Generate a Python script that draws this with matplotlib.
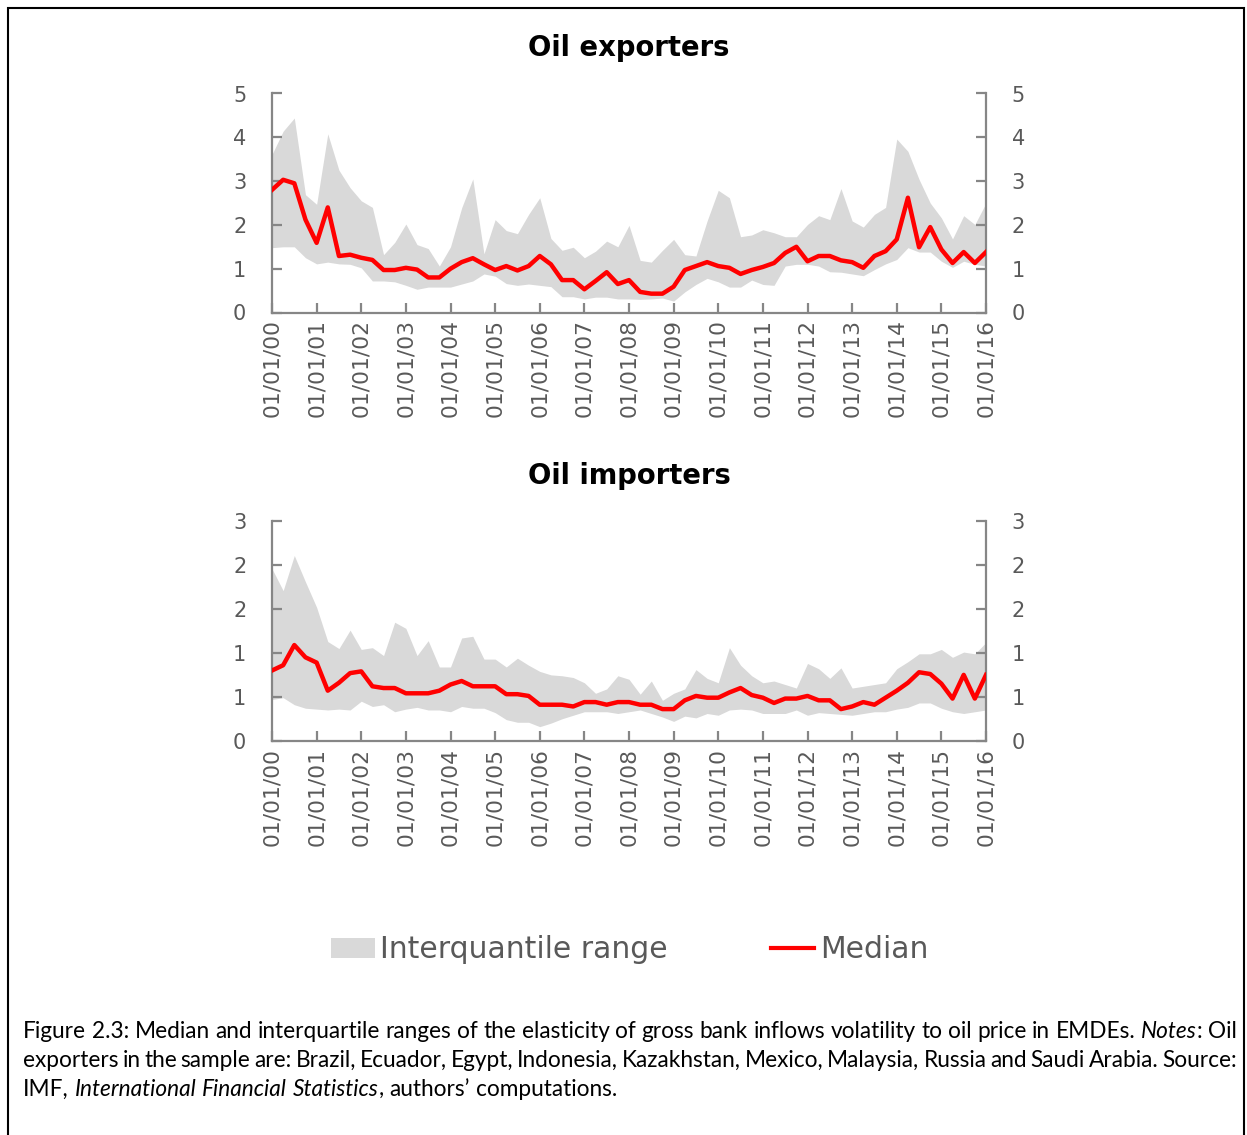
import matplotlib
matplotlib.use("Agg")
import matplotlib.pyplot as plt
import numpy as np
from matplotlib.patches import Patch, Rectangle
from matplotlib.lines import Line2D

# ---------------- data (quarterly, 2000Q1 .. 2016Q1) ----------------
quarter_index = list(range(65))
year_tick_pos = [0, 4, 8, 12, 16, 20, 24, 28, 32, 36, 40, 44, 48, 52, 56, 60, 64]
year_tick_labels = ["01/01/00", "01/01/01", "01/01/02", "01/01/03", "01/01/04",
                    "01/01/05", "01/01/06", "01/01/07", "01/01/08", "01/01/09",
                    "01/01/10", "01/01/11", "01/01/12", "01/01/13", "01/01/14",
                    "01/01/15", "01/01/16"]

exp_median = [2.80, 3.03, 2.95, 2.12, 1.59, 2.40, 1.29, 1.32, 1.25, 1.20,
              0.97, 0.97, 1.02, 0.98, 0.80, 0.80, 1.00, 1.15, 1.24, 1.10,
              0.97, 1.06, 0.96, 1.06, 1.29, 1.10, 0.74, 0.74, 0.53, 0.72,
              0.92, 0.65, 0.74, 0.47, 0.43, 0.43, 0.59, 0.97, 1.06, 1.15,
              1.06, 1.02, 0.88, 0.97, 1.04, 1.13, 1.36, 1.50, 1.17, 1.29,
              1.29, 1.19, 1.15, 1.02, 1.29, 1.40, 1.67, 2.62, 1.49, 1.95,
              1.44, 1.13, 1.38, 1.13, 1.38]
exp_upper = [3.61, 4.14, 4.44, 2.69, 2.47, 4.08, 3.25, 2.85, 2.55, 2.40,
             1.32, 1.60, 2.02, 1.55, 1.46, 1.06, 1.50, 2.39, 3.05, 1.34,
             2.12, 1.87, 1.80, 2.24, 2.62, 1.69, 1.42, 1.49, 1.25, 1.40,
             1.63, 1.50, 1.99, 1.19, 1.15, 1.42, 1.67, 1.32, 1.29, 2.09,
             2.79, 2.62, 1.73, 1.77, 1.89, 1.82, 1.73, 1.73, 2.01, 2.21,
             2.12, 2.83, 2.09, 1.95, 2.24, 2.40, 3.96, 3.68, 3.04, 2.50,
             2.16, 1.68, 2.21, 2.01, 2.50]
exp_lower = [1.48, 1.50, 1.50, 1.25, 1.11, 1.15, 1.11, 1.10, 1.02, 0.72,
             0.72, 0.70, 0.62, 0.53, 0.58, 0.58, 0.58, 0.65, 0.72, 0.88,
             0.83, 0.66, 0.62, 0.65, 0.62, 0.59, 0.36, 0.36, 0.31, 0.35,
             0.35, 0.31, 0.31, 0.30, 0.31, 0.33, 0.26, 0.47, 0.64, 0.78,
             0.70, 0.58, 0.58, 0.74, 0.64, 0.62, 1.06, 1.10, 1.10, 1.06,
             0.93, 0.92, 0.88, 0.84, 0.98, 1.11, 1.21, 1.48, 1.38, 1.38,
             1.17, 1.03, 1.17, 1.10, 1.06]

imp_median = [0.80, 0.86, 1.09, 0.95, 0.89, 0.57, 0.66, 0.77, 0.79, 0.62,
              0.60, 0.60, 0.54, 0.54, 0.54, 0.57, 0.64, 0.68, 0.62, 0.62,
              0.62, 0.53, 0.53, 0.51, 0.41, 0.41, 0.41, 0.39, 0.44, 0.44,
              0.41, 0.44, 0.44, 0.41, 0.41, 0.36, 0.36, 0.46, 0.51, 0.49,
              0.49, 0.55, 0.60, 0.52, 0.49, 0.43, 0.48, 0.48, 0.51, 0.46,
              0.46, 0.36, 0.39, 0.44, 0.41, 0.49, 0.57, 0.66, 0.78, 0.76,
              0.65, 0.48, 0.75, 0.48, 0.75]
imp_upper = [1.96, 1.71, 2.11, 1.81, 1.52, 1.13, 1.05, 1.26, 1.04, 1.06,
             0.97, 1.35, 1.28, 0.97, 1.14, 0.84, 0.84, 1.17, 1.19, 0.93,
             0.93, 0.84, 0.94, 0.86, 0.79, 0.75, 0.74, 0.72, 0.66, 0.54,
             0.59, 0.74, 0.70, 0.53, 0.68, 0.46, 0.54, 0.59, 0.81, 0.71,
             0.66, 1.06, 0.86, 0.74, 0.66, 0.68, 0.64, 0.60, 0.88, 0.82,
             0.71, 0.83, 0.60, 0.62, 0.64, 0.66, 0.82, 0.90, 0.99, 0.99,
             1.04, 0.95, 1.01, 0.99, 1.12]
imp_lower = [0.47, 0.49, 0.41, 0.37, 0.36, 0.35, 0.36, 0.35, 0.45, 0.39,
             0.41, 0.33, 0.36, 0.38, 0.35, 0.35, 0.33, 0.39, 0.37, 0.37,
             0.32, 0.24, 0.21, 0.21, 0.16, 0.20, 0.25, 0.29, 0.33, 0.33,
             0.33, 0.31, 0.33, 0.35, 0.31, 0.27, 0.22, 0.28, 0.26, 0.31,
             0.29, 0.35, 0.36, 0.35, 0.31, 0.31, 0.31, 0.35, 0.29, 0.32,
             0.31, 0.30, 0.29, 0.31, 0.33, 0.33, 0.36, 0.38, 0.43, 0.43,
             0.37, 0.33, 0.31, 0.33, 0.35]

exp_yticks = [0, 1, 2, 3, 4, 5]
exp_yticklabels = ["0", "1", "2", "3", "4", "5"]
imp_yticks = [0, 0.5, 1.0, 1.5, 2.0, 2.5]
imp_yticklabels = ["0", "1", "1", "2", "2", "3"]

titles = ["Oil exporters", "Oil importers"]
legend_labels = ["Interquantile range", "Median"]
caption_lines = [
    "Figure 2.3: Median and interquartile ranges of the elasticity of gross bank inflows volatility to oil price in EMDEs. *Notes*: Oil",
    "exporters in the sample are: Brazil, Ecuador, Egypt, Indonesia, Kazakhstan, Mexico, Malaysia, Russia and Saudi Arabia. Source:",
    "IMF, *International Financial Statistics*, authors\u2019 computations.",
]

# ---------------- styling ----------------
W, H = 1247, 1135
BAND = "#d9d9d9"
RED = "#ff0000"
AXC = "#868686"
TXT = "#595959"
plt.rcParams["font.family"] = ["DejaVu Sans"]

fig = plt.figure(figsize=(W / 100, H / 100), dpi=100)


def fx(px):
    return px / W


def fy(py):
    return 1 - py / H


def make_panel(rect, median, lower, upper, ymax, yticks, ylabels, title):
    ax = fig.add_axes(rect)
    ax.fill_between(quarter_index, lower, upper, color=BAND, lw=0, zorder=1)
    ax.plot(quarter_index, median, color=RED, lw=3.2, zorder=3)
    ax.set_xlim(0, 64)
    ax.set_ylim(0, ymax)
    ax.spines["top"].set_visible(False)
    for s in ("left", "right", "bottom"):
        ax.spines[s].set_color(AXC)
        ax.spines[s].set_linewidth(1.6)
    ax.set_yticks(yticks)
    ax.set_yticklabels(ylabels)
    ax.set_xticks(year_tick_pos)
    ax.set_xticklabels(year_tick_labels, rotation=90)
    ax.tick_params(axis="both", direction="in", length=7, width=1.6, color=AXC,
                   labelcolor=TXT)
    ax.tick_params(axis="y", left=True, right=True, labelleft=True,
                   labelright=True, labelsize=15, pad=18.5)
    ax.tick_params(axis="x", labelsize=15.7, pad=5)
    ax.set_title(title, fontsize=19.8, fontweight="bold", color="black", pad=27)
    return ax


ax1 = make_panel([fx(272), fy(312.5), fx(986) - fx(272), fy(93.5) - fy(312.5)],
                 exp_median, exp_lower, exp_upper, 5, exp_yticks, exp_yticklabels,
                 titles[0])
ax2 = make_panel([fx(272), fy(740.7), fx(986) - fx(272), fy(521.3) - fy(740.7)],
                 imp_median, imp_lower, imp_upper, 2.5, imp_yticks, imp_yticklabels,
                 titles[1])

# legend
handles = [Patch(facecolor=BAND, edgecolor="none", label=legend_labels[0]),
           Line2D([], [], color=RED, lw=3, label=legend_labels[1])]
fig.legend(handles=handles, loc="center", bbox_to_anchor=(fx(630), fy(950)),
           ncol=2, frameon=False, fontsize=21.5, handlelength=1.45,
           handleheight=0.62, handletextpad=0.2, columnspacing=3.45,
           labelcolor=TXT)

# outer border
fig.add_artist(Rectangle((fx(8), -0.02), fx(1244) - fx(8), fy(8) + 0.02,
                         transform=fig.transFigure, fill=False, ec="black", lw=1.5))

# caption (justified)
CAP_FONT = ["Lato", "DejaVu Sans"]
CAP_FS = 16.3
renderer = fig.canvas.get_renderer()


def seg_width(s, italic):
    t = fig.text(0, 0, s, fontsize=CAP_FS, family=CAP_FONT,
                 style="italic" if italic else "normal")
    w = t.get_window_extent(renderer).width
    t.remove()
    return w


def parse(line):
    words, italic = [], False
    for raw in line.split(" "):
        segs, buf = [], ""
        for ch in raw:
            if ch == "*":
                if buf:
                    segs.append((buf, italic))
                    buf = ""
                italic = not italic
            else:
                buf += ch
        if buf:
            segs.append((buf, italic))
        words.append(segs)
    return words


space_w = seg_width("a a", False) - seg_width("aa", False)
x_left, x_right = 23, 1237
baselines = [1038, 1067, 1096]
for li, line in enumerate(caption_lines):
    words = parse(line)
    widths = [[seg_width(s, it) for s, it in w] for w in words]
    totals = [sum(ws) for ws in widths]
    if li < len(caption_lines) - 1:
        gap = (x_right - x_left - sum(totals)) / (len(words) - 1)
    else:
        gap = space_w
    x = x_left
    for w, ws in zip(words, widths):
        xx = x
        for (s, it), sw in zip(w, ws):
            fig.text(fx(xx), fy(baselines[li]), s, fontsize=CAP_FS, family=CAP_FONT,
                     style="italic" if it else "normal", color="black",
                     va="baseline", ha="left")
            xx += sw
        x += sum(ws) + gap

fig.savefig("out.png", dpi=100, facecolor="white")
